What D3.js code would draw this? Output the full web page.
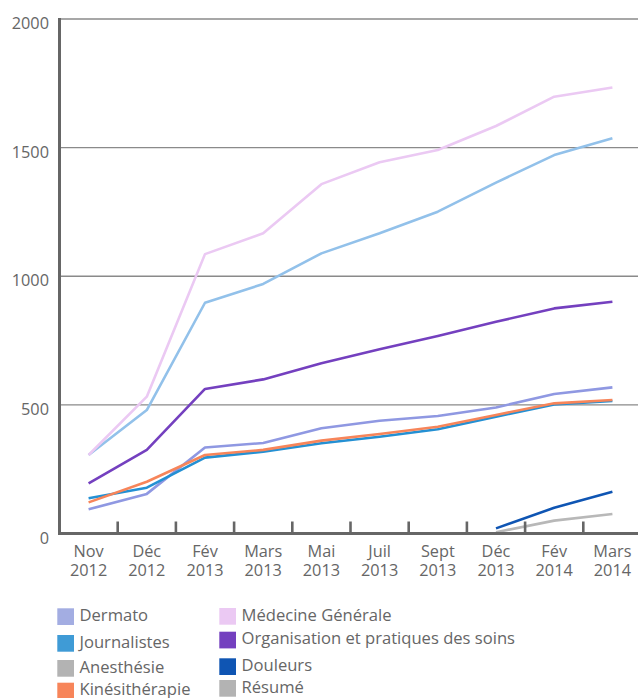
<!DOCTYPE html>
<html>
<head>
<meta charset="utf-8">
<script src="https://cdn.jsdelivr.net/npm/d3@7"></script>
<style>
  html, body { margin: 0; padding: 0; background: #fff; }
  svg { display: block; }
  text { font-family: "Open Sans", sans-serif; fill: #666; }
</style>
</head>
<body>
<svg id="chart" width="638" height="698"></svg>
<script>
const months = ["Nov", "Déc", "Fév", "Mars", "Mai", "Juil", "Sept", "Déc", "Fév", "Mars"];
const years  = ["2012", "2012", "2013", "2013", "2013", "2013", "2013", "2013", "2014", "2014"];
const yTicks = [0, 500, 1000, 1500, 2000];

const dermato       = [94, 154, 334, 352, 409, 438, 457, 490, 542, 568];
const journalistes  = [137, 178, 295, 318, 351, 376, 405, 454, 502, 515];
const anesthesie    = [null, null, null, null, null, null, null, 5, 50, 76];
const kine          = [121, 201, 305, 325, 361, 387, 415, 461, 506, 519];
const medecine      = [305, 532, 1086, 1167, 1358, 1443, 1491, 1584, 1698, 1734];
const organisation  = [195, 325, 562, 599, 662, 716, 768, 823, 875, 901];
const douleurs      = [null, null, null, null, null, null, null, 20, 100, 162];
const resume        = [305, 480, 897, 970, 1089, 1167, 1251, 1364, 1471, 1536];

const legendNames  = ["Dermato", "Journalistes", "Anesthésie", "Kinésithérapie",
                      "Médecine Générale", "Organisation et pratiques des soins", "Douleurs", "Résumé"];
const legendColors = ["#a3ade2", "#3f9bd6", "#b3b3b3", "#f7855a",
                      "#ebc9f3", "#7440bf", "#0f55b3", "#b3b3b3"];

// series in drawing order
const series = [
  { values: resume,       color: "#92c1ea" },
  { values: medecine,     color: "#ebc9f3" },
  { values: organisation, color: "#7440bf" },
  { values: dermato,      color: "#8f98e2" },
  { values: journalistes, color: "#2490d3" },
  { values: kine,         color: "#f7855a" },
  { values: anesthesie,   color: "#b8b8b8" },
  { values: douleurs,     color: "#0f55b3" }
];

const svg = d3.select("#chart");
const mLeft = 59.5, mTop = 19, mBottom = 533.5;
const x = d3.scaleBand().domain(d3.range(months.length)).range([mLeft, mLeft + 58.2 * months.length]).padding(0);
const y = d3.scaleLinear().domain([0, 2000]).range([mBottom, mTop]);
const cx = i => x(i) + x.bandwidth() / 2;

// gridlines
svg.append("g").selectAll("line").data(yTicks.filter(d => d > 0)).join("line")
  .attr("x1", mLeft).attr("x2", 638)
  .attr("y1", d => y(d)).attr("y2", d => y(d))
  .attr("stroke", "#8a8a8a").attr("stroke-width", 1.4);

// y labels
svg.append("g").selectAll("text").data(yTicks).join("text")
  .attr("x", 49).attr("y", d => y(d) + 10)
  .attr("text-anchor", "end")
  .style("font-size", "16.3px")
  .text(d => d);

// lines
const line = d3.line().defined(d => d != null).x((d, i) => cx(i)).y(d => y(d));
svg.append("g").selectAll("path").data(series).join("path")
  .attr("d", s => line(s.values))
  .attr("fill", "none")
  .attr("stroke", s => s.color)
  .attr("stroke-width", 2.6)
  .attr("stroke-linejoin", "round");

// axes
svg.append("line").attr("x1", mLeft).attr("x2", mLeft).attr("y1", mTop - 1).attr("y2", mBottom + 1.5)
  .attr("stroke", "#666").attr("stroke-width", 3);
svg.append("line").attr("x1", mLeft - 1.5).attr("x2", 638).attr("y1", mBottom).attr("y2", mBottom)
  .attr("stroke", "#666").attr("stroke-width", 3);

// x ticks (between bands)
svg.append("g").selectAll("line").data(d3.range(1, months.length)).join("line")
  .attr("x1", i => x(i)).attr("x2", i => x(i))
  .attr("y1", mBottom).attr("y2", mBottom - 12)
  .attr("stroke", "#666").attr("stroke-width", 2.6);

// x labels
const xl = svg.append("g").selectAll("text").data(months).join("text")
  .attr("text-anchor", "middle")
  .style("font-size", "16.3px");
xl.append("tspan").attr("x", (d, i) => cx(i)).attr("y", 556.7).text(d => d);
xl.append("tspan").attr("x", (d, i) => cx(i)).attr("y", 575.7).text((d, i) => years[i]);

// legend
const legendPos = [
  [57.3, 608.3], [57.3, 635], [57.3, 660], [57.3, 682.7],
  [219.3, 608], [219.3, 631.7], [219.3, 658.3], [219.3, 680]
];
const lg = svg.append("g").selectAll("g").data(legendNames).join("g")
  .attr("transform", (d, i) => `translate(${legendPos[i][0]},${legendPos[i][1]})`);
lg.append("rect").attr("width", 16.7).attr("height", 16.7).attr("fill", (d, i) => legendColors[i]);
lg.append("text").attr("x", 22.2).attr("y", 12.6).style("font-size", "16.6px").text(d => d);
</script>
</body>
</html>
